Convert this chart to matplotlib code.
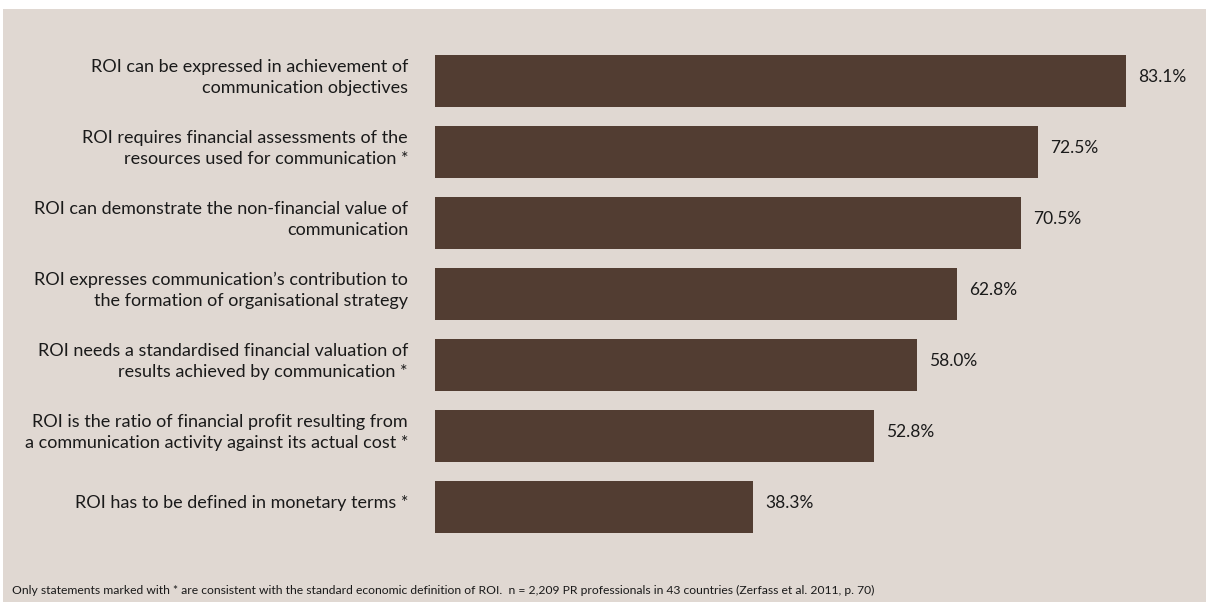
import matplotlib
matplotlib.use("Agg")
import matplotlib.pyplot as plt
from matplotlib.patches import Rectangle

# datos
etiquetas = [
    "ROI can be expressed in achievement of\ncommunication objectives",
    "ROI requires financial assessments of the\nresources used for communication *",
    "ROI can demonstrate the non-financial value of\ncommunication",
    "ROI expresses communication\u2019s contribution to\nthe formation of organisational strategy",
    "ROI needs a standardised financial valuation of\nresults achieved by communication *",
    "ROI is the ratio of financial profit resulting from\na communication activity against its actual cost *",
    "ROI has to be defined in monetary terms *",
]
valores = [83.1, 72.5, 70.5, 62.8, 58.0, 52.8, 38.3]
nota = ("Only statements marked with * are consistent with the standard economic definition of ROI.  "
        "n = 2,209 PR professionals in 43 countries (Zerfass et al. 2011, p. 70)")

fondo = "#E0D8D2"
barra = "#523D32"
texto = "#1A1A1A"

plt.rcParams['font.family'] = ['Lato', 'DejaVu Sans']

W, H = 1206, 602
fig = plt.figure(figsize=(W / 100, H / 100), dpi=100)
fig.patch.set_facecolor("white")
# fondo beige con un pequeño borde blanco arriba e izquierda
fig.add_artist(Rectangle((3 / W, 0), 1, 1 - 9 / H, transform=fig.transFigure,
                         facecolor=fondo, edgecolor="none", zorder=0))

# ejes colocados en pixeles
x0 = 435
paso = 71
y_top = 81 - paso / 2
y_bot = 507 + paso / 2
ax = fig.add_axes([x0 / W, 1 - y_bot / H, (W - x0) / W, (y_bot - y_top) / H])
ax.set_facecolor("none")

escala = 8.315  # px por %
ax.set_xlim(0, (W - x0) / escala)
ax.set_ylim(len(valores) - 0.5, -0.5)

pos = list(range(len(valores)))
ax.barh(pos, valores, height=52 / paso, color=barra)

for i, (et, v) in enumerate(zip(etiquetas, valores)):
    ax.text(-27 / escala, i - 0.05, et, ha="right", va="center", fontsize=13,
            color=texto, linespacing=1.4)
    ax.text(v + 12 / escala, i - 0.06, f"{v:.1f}%", ha="left", va="center",
            fontsize=12.5, color=texto)

for s in ax.spines.values():
    s.set_visible(False)
ax.set_xticks([])
ax.set_yticks([])

fig.text(12 / W, 1 - 590 / H, nota, fontsize=8.75, color=texto, ha="left", va="center")

fig.savefig("out.png", dpi=100)
